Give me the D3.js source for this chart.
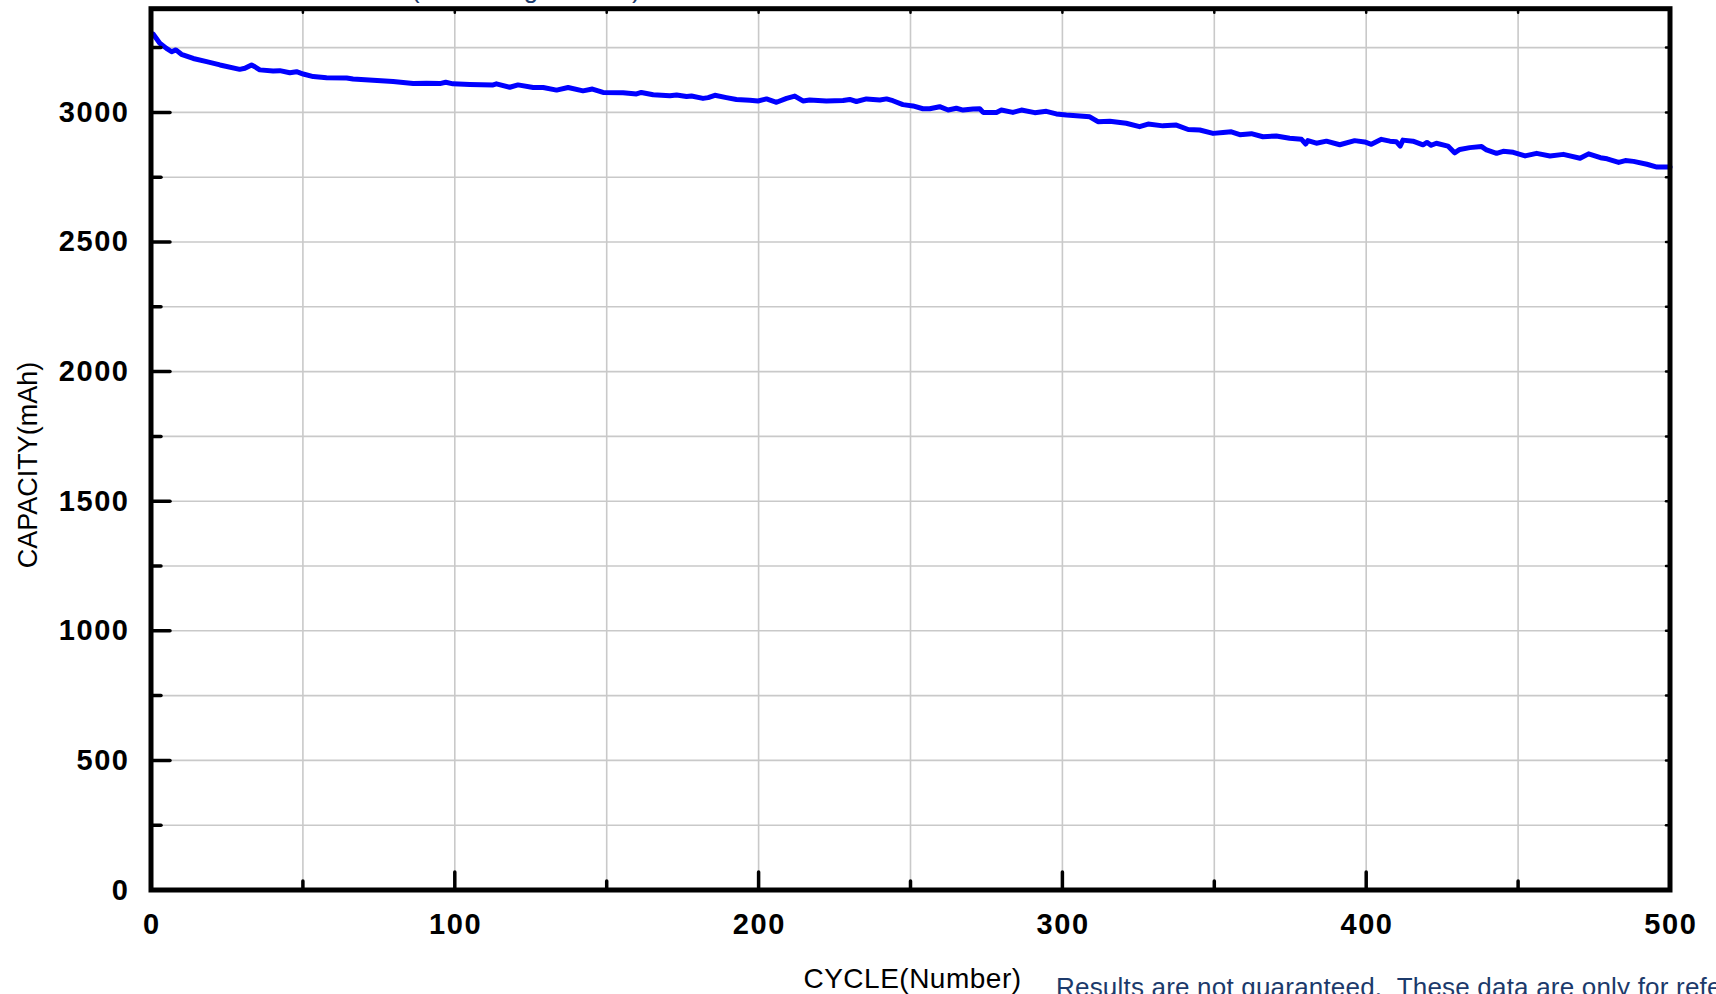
<!DOCTYPE html>
<html>
<head>
<meta charset="utf-8">
<script src="https://cdn.jsdelivr.net/npm/d3@7/dist/d3.min.js"></script>
<style>
  html, body { margin: 0; padding: 0; background: #ffffff; overflow: hidden; }
  svg { display: block; }
</style>
</head>
<body>
<svg id="chart" width="1716" height="994"></svg>
<script>
// ---- data ----
const cycles = [
  0.7, 2.9, 5.1, 6.8, 8.2, 10, 13.9, 18.3, 22.7, 29.2, 30.9, 33.1, 34.2, 35.8, 40.2, 42.4, 45.7, 47.9,
  50.1, 53.4, 57.8, 64.4, 66.5, 73.1, 79.7, 86.3, 90.7, 95.1, 97, 99.4,
  104.9, 112.6, 113.7, 118.1, 120.8, 125.8, 129.1, 133.5, 137.3, 142.2, 145.3, 148.8,
  155.4, 159.8, 161.4, 165.3, 170.8, 173, 176.3, 177.9, 181.7, 183.4, 185.6, 189.4, 192.7, 197.1, 199.8,
  202.6, 205.9, 209.2, 211.9, 214.6, 216.8, 222.3, 227.8, 230, 232.2, 235.5, 239.9, 242.1, 244.2, 247.5,
  250.8, 254.1, 256.3, 259.6, 262.4, 265.1, 267.3, 270.6, 272.8, 273.9, 278.3, 279.9, 283.7, 286.5,
  290.9, 294.7, 298, 301.3,
  305.7, 309, 311.7, 315.6, 321, 325.4, 328.2, 333.1, 337.5, 341.4, 345.2, 349.6,
  352.9, 355.6, 358.4, 362.2, 366, 370.4, 374.8, 378.7, 380.1, 380.8, 383.6, 386.9, 391.3, 396.2, 399.5,
  401.7, 405, 407.8, 409.9, 411.2, 412.1, 415.4, 418.7, 420, 421.4, 423.1, 426.9, 429.1, 430.8, 434.1,
  438, 439.6, 442.9, 445.1, 448.4, 452.3, 456.1, 460.5, 464.9, 470.4, 473.2, 477.1, 479.3, 483.1, 485.3,
  488, 492.4, 495.7, 500
];
const capacity = [
  3302, 3267, 3247, 3234, 3241, 3224, 3208, 3196, 3183, 3166, 3170, 3183, 3176, 3164, 3160, 3161, 3153, 3157,
  3148, 3138, 3134, 3133, 3129, 3124, 3119, 3111, 3112, 3111, 3116, 3110,
  3108, 3106, 3110, 3097, 3106, 3096, 3096, 3086, 3096, 3083, 3090, 3077,
  3076, 3071, 3077, 3068, 3064, 3067, 3061, 3063, 3054, 3057, 3066, 3057, 3050, 3047, 3044,
  3052, 3039, 3054, 3063, 3044, 3048, 3044, 3046, 3050, 3042, 3052, 3048, 3052, 3045, 3030,
  3025, 3014, 3014, 3022, 3009, 3016, 3009, 3013, 3014, 3000, 3000, 3009, 3000, 3009,
  2999, 3004, 2994, 2990,
  2986, 2983, 2964, 2966, 2958, 2945, 2955, 2948, 2951, 2934, 2932, 2919,
  2922, 2925, 2914, 2918, 2906, 2909, 2900, 2896, 2878, 2891, 2881, 2889, 2875, 2891, 2886,
  2877, 2896, 2889, 2887, 2870, 2893, 2889, 2875, 2884, 2873, 2881, 2870, 2844, 2857, 2864,
  2868, 2855, 2842, 2850, 2846, 2832, 2842, 2832, 2838, 2823, 2840, 2825, 2821, 2807, 2814,
  2811, 2800, 2789, 2789
];
const xTickLabels = [0, 100, 200, 300, 400, 500];
const xMinorTicks = [50, 150, 250, 350, 450];
const yTickLabels = [0, 500, 1000, 1500, 2000, 2500, 3000];
const yMinorTicks = [250, 750, 1250, 1750, 2250, 2750, 3250];
const xGrid = [50, 100, 150, 200, 250, 300, 350, 400, 450];
const yGrid = [250, 500, 750, 1000, 1250, 1500, 1750, 2000, 2250, 2500, 2750, 3000, 3250];
const xTitle = "CYCLE(Number)";
const yTitle = "CAPACITY(mAh)";
const topTitle = "(Std. charge 0.5CA)";
const footnote = "Results are not guaranteed.  These data are only for reference.";

// ---- layout ----
const svg = d3.select("#chart");
const x = d3.scaleLinear().domain([0, 500]).range([151, 1670]);
const y = d3.scaleLinear().domain([0, 3400]).range([890, 8.7]);
const [x0, x1] = x.range();
const [yb, yt] = y.range();

// grid
svg.append("g").selectAll("line").data(xGrid).join("line")
  .attr("x1", d => x(d)).attr("x2", d => x(d))
  .attr("y1", yt).attr("y2", yb)
  .attr("stroke", "#c9c9c9").attr("stroke-width", 1.6);
svg.append("g").selectAll("line").data(yGrid).join("line")
  .attr("x1", x0).attr("x2", x1)
  .attr("y1", d => y(d)).attr("y2", d => y(d))
  .attr("stroke", "#c9c9c9").attr("stroke-width", 1.6);

// data line
const line = d3.line().x((d, i) => x(cycles[i])).y((d, i) => y(capacity[i]));
svg.append("path")
  .attr("d", line(capacity))
  .attr("fill", "none")
  .attr("stroke", "#0000ff")
  .attr("stroke-width", 5)
  .attr("stroke-linejoin", "round")
  .attr("stroke-linecap", "round");

// ticks (inward)
const tickG = svg.append("g").attr("stroke", "#000").attr("stroke-width", 3.5).attr("stroke-linecap", "round");
tickG.selectAll(".xmaj").data(xTickLabels).join("line").attr("class", "xmaj")
  .attr("x1", d => x(d)).attr("x2", d => x(d)).attr("y1", yb).attr("y2", yb - 18);
tickG.selectAll(".xmin").data(xMinorTicks).join("line").attr("class", "xmin")
  .attr("x1", d => x(d)).attr("x2", d => x(d)).attr("y1", yb).attr("y2", yb - 9);
tickG.selectAll(".ymaj").data(yTickLabels).join("line").attr("class", "ymaj")
  .attr("x1", x0).attr("x2", x0 + 19).attr("y1", d => y(d)).attr("y2", d => y(d));
tickG.selectAll(".ymin").data(yMinorTicks).join("line").attr("class", "ymin")
  .attr("x1", x0).attr("x2", x0 + 10).attr("y1", d => y(d)).attr("y2", d => y(d));
// tiny ticks on top and right
tickG.selectAll(".xtop").data(xGrid).join("line").attr("class", "xtop")
  .attr("stroke-width", 2.5)
  .attr("x1", d => x(d)).attr("x2", d => x(d)).attr("y1", yt).attr("y2", yt + 4);
tickG.selectAll(".yright").data(yGrid).join("line").attr("class", "yright")
  .attr("stroke-width", 2.5)
  .attr("x1", x1).attr("x2", x1 - 4).attr("y1", d => y(d)).attr("y2", d => y(d));

// frame
svg.append("rect")
  .attr("x", x0).attr("y", yt)
  .attr("width", x1 - x0).attr("height", yb - yt)
  .attr("fill", "none").attr("stroke", "#000").attr("stroke-width", 5);

// tick labels
const labelFont = "'Liberation Sans', Arial, sans-serif";
const ls = 1.6;
svg.append("g").selectAll("text").data(xTickLabels).join("text")
  .attr("x", d => x(d) + ls / 2).attr("y", 934)
  .attr("text-anchor", "middle")
  .attr("font-family", labelFont).attr("font-weight", "bold")
  .attr("font-size", 29).attr("letter-spacing", ls).attr("fill", "#000")
  .text(d => d);
svg.append("g").selectAll("text").data(yTickLabels).join("text")
  .attr("x", 128 + ls).attr("y", d => y(d) + 9.5)
  .attr("text-anchor", "end")
  .attr("font-family", labelFont).attr("font-weight", "bold")
  .attr("font-size", 29).attr("letter-spacing", ls).attr("fill", "#000")
  .text(d => d);

// axis titles
svg.append("text")
  .attr("x", (x0 + x1) / 2 + 2).attr("y", 988)
  .attr("text-anchor", "middle")
  .attr("font-family", labelFont).attr("font-size", 28).attr("letter-spacing", 0.5).attr("fill", "#000")
  .text(xTitle);
svg.append("text")
  .attr("transform", "translate(37,465) rotate(-90)")
  .attr("text-anchor", "middle")
  .attr("font-family", labelFont).attr("font-size", 27).attr("fill", "#000")
  .text(yTitle);

// clipped title at the top and footnote at the bottom (both cut by the page edge, as in the reference)
svg.append("text")
  .attr("x", 411).attr("y", -2)
  .attr("font-family", labelFont).attr("font-size", 26).attr("fill", "#1c3a6b")
  .text(topTitle);
svg.append("text")
  .attr("x", 1056).attr("y", 996)
  .attr("font-family", labelFont).attr("font-size", 26).attr("letter-spacing", 0.2).attr("fill", "#1c3a6b")
  .style("white-space", "pre")
  .text(footnote);
</script>
</body>
</html>
